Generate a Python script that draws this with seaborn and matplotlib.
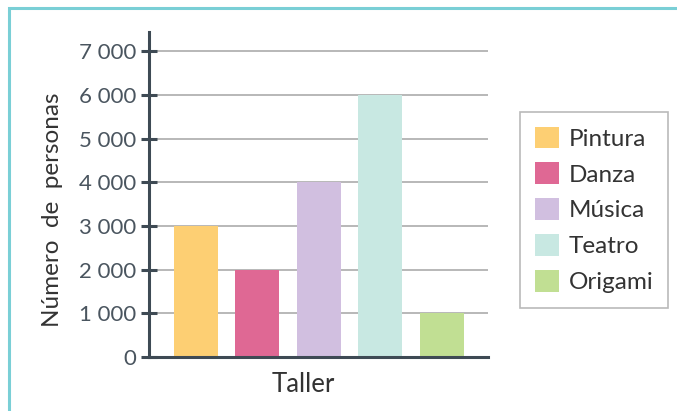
import matplotlib
matplotlib.use("Agg")
import matplotlib.pyplot as plt
import seaborn as sns
import pandas as pd
from matplotlib.patches import Rectangle, Patch

categories = ["Pintura", "Danza", "Música", "Teatro", "Origami"]
values = [3000, 2000, 4000, 6000, 1000]
colors = ["#FDCF73", "#DF6894", "#D1BFE0", "#C8E8E2", "#C1DF93"]
yticks = [0, 1000, 2000, 3000, 4000, 5000, 6000, 7000]
ytick_labels = ["0", "1 000", "2 000", "3 000", "4 000", "5 000", "6 000", "7 000"]

sns.set_style("white")
plt.rcParams["font.family"] = ["Lato", "DejaVu Sans"]

df = pd.DataFrame({"Taller": categories, "Personas": values})

fig = plt.figure(figsize=(6.77, 4.11), dpi=100)
ax = fig.add_axes([149/677, 1-357/411, (488-149)/677, (357-32)/411])

sns.barplot(data=df, x="Taller", y="Personas", hue="Taller", palette=colors,
            width=0.715, legend=False, ax=ax, saturation=1, linewidth=0, edgecolor="none")

spine_c = "#3E4A54"
ax.set_ylim(0, 7440)
ax.set_xlim(-0.764, 4.75)
ax.set_yticks(yticks)
ax.set_yticklabels(ytick_labels, fontsize=16, color="#4A555F")
ax.set_xticks([])
ax.tick_params(axis="y", direction="inout", length=12, width=2.2, color=spine_c, pad=3, left=True)
for s in ["top", "right"]:
    ax.spines[s].set_visible(False)
for s in ["left", "bottom"]:
    ax.spines[s].set_color(spine_c)
    ax.spines[s].set_linewidth(2.2)
ax.yaxis.grid(True, color="#ABABAB", linewidth=1.2)
ax.set_axisbelow(True)
ax.set_xlabel("Taller", fontsize=18.5, color="#333333", labelpad=6)
ax.xaxis.set_label_coords((303-149)/339, -0.045, transform=ax.transAxes)
ax.xaxis.label.set_verticalalignment("top")
ax.set_ylabel("Número  de  personas", fontsize=17.5, color="#333333")
ax.yaxis.set_label_coords(-0.255, 0.452)

handles = [Patch(facecolor=c, edgecolor="none", label=l) for c, l in zip(colors, categories)]
leg = fig.legend(handles=handles, loc="upper left", bbox_to_anchor=(520/677, 1-112/411),
                 borderaxespad=0, fontsize=17.5, frameon=True, fancybox=False,
                 handlelength=1.0, handleheight=1.0, labelspacing=0.52, handletextpad=0.4,
                 borderpad=0.6)
leg.get_frame().set_edgecolor("#A8A8A8")
leg.get_frame().set_linewidth(1.2)
for t in leg.get_texts():
    t.set_color("#333333")

fig.patches.append(Rectangle((9/677, -0.1), 1.2, 1.1 - 8/411, transform=fig.transFigure,
                             fill=False, edgecolor="#7ACFD6", linewidth=2.2))

fig.savefig("out.png", dpi=100)
